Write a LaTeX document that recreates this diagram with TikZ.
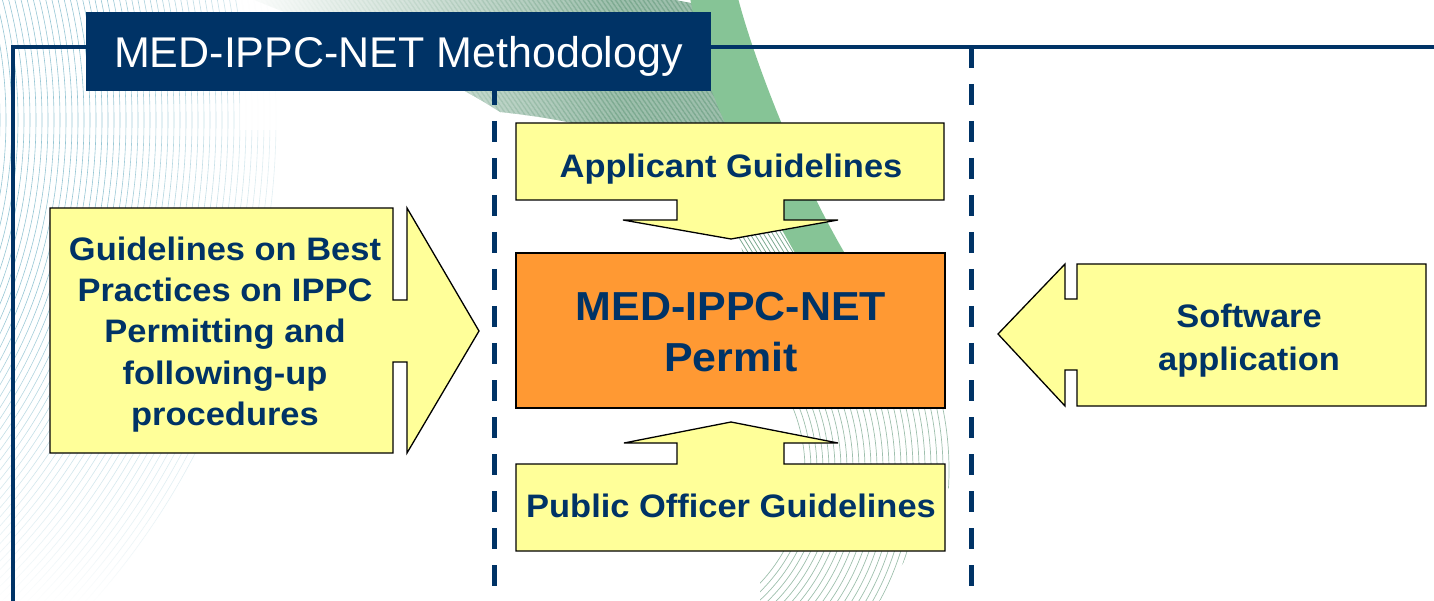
\documentclass[tikz,border=0pt]{standalone}
\usepackage{fontspec}
\setmainfont{Liberation Sans}
\newfontfamily\labelfont{Liberation Sans}[FakeStretch=1.06]
\usetikzlibrary{fadings}
\definecolor{navy}{RGB}{0,51,102}
\definecolor{paleyellow}{RGB}{255,255,153}
\definecolor{permitorange}{RGB}{255,153,51}
\definecolor{swooshgreen}{RGB}{134,196,150}
\definecolor{hatchgreen}{RGB}{125,170,145}
\definecolor{lineblue}{RGB}{150,198,212}
\tikzfading[name=fadetoright, left color=transparent!100, right color=transparent!0]
\tikzfading[name=fadetoleft, left color=transparent!0, right color=transparent!100]
\tikzfading[name=fadetobottom, top color=transparent!100, bottom color=transparent!0]
\begin{document}
\begin{tikzpicture}[x=1pt,y=-1pt,
  frameline/.style={navy, line width=4pt},
  divider/.style={navy, line width=5pt, dash pattern=on 21pt off 16pt},
  blockshape/.style={fill=paleyellow, draw=black, line width=1.3pt, line join=miter},
  permitbox/.style={fill=permitorange, draw=black, line width=1.3pt},
  hatchline/.style={hatchgreen, line width=0.8pt},
  yellowtext/.style={text=navy, align=center, inner sep=0pt,
    font=\labelfont\bfseries\fontsize{32.5}{41.2}\selectfont},
  titlebox/.style={fill=navy, text=white, inner sep=0pt, minimum width=625pt,
    text height=56pt, text depth=23pt, font=\fontsize{43}{50}\selectfont}]
\useasboundingbox (0,0) rectangle (1434,601);

% ---- background: light blue curves on the left
\begin{scope}
  \clip (0,0) rectangle (335,601);
  \foreach \r in {450,456,...,726}
    \draw[lineblue, line width=0.6pt] (-450,120) circle (\r);
\end{scope}
\fill[white, path fading=fadetoright] (100,-2) rectangle (337,603);
\fill[white, path fading=fadetobottom] (-2,300) rectangle (337,603);

% ---- background: diagonal hatch near the top, left of the swoosh
\begin{scope}
  \clip (250,-2) -- (700,-2) .. controls (712,110) and (760,190) .. (800,262)
        -- (745,262) .. controls (725,170) and (650,128) .. (500,112)
        .. controls (420,60) and (300,20) .. (250,-2) -- cycle;
  \foreach \i in {0,...,200}
    \draw[hatchline] ({-300+4.6*\i},-10) -- ++(900,170);
  \foreach \i in {0,...,40}
    \draw[hatchline] ({640+4.5*\i},150) -- ++(80,130);
\end{scope}
\fill[white, path fading=fadetoleft] (240,-3) rectangle (620,130);

% ---- background: green swoosh
\fill[swooshgreen] (690,-2) -- (738,-2) .. controls (754,60) and (800,180) .. (850,262)
  -- (850,300) -- (810,300) -- (800,262) .. controls (760,190) and (716,120) .. (703,60)
  -- (690,-2) -- cycle;

% ---- background: arcs below the permit box
\begin{scope}
  \clip (760,408) -- (960,408) -- (960,470) -- (880,601) -- (760,601) -- cycle;
  \foreach \r in {165,171,...,310}
    \draw[hatchgreen, opacity=0.75, line width=0.7pt] (640,470) circle (\r);
\end{scope}

% ---- frame and dividers
\draw[frameline] (13,610) -- (13,47) -- (1440,47);
\draw[divider] (494,47) -- (494,610);
\draw[divider] (971,47) -- (971,610);

% ---- title
\node[titlebox] (title) at (398.5,51.5) {MED-IPPC-NET Methodology};

% ---- left block arrow
\draw[blockshape] (50,208) -- (393,208) -- (393,300) -- (407,300) -- (407,208)
  -- (479,331) -- (407,453) -- (407,362) -- (393,362) -- (393,453) -- (50,453) -- cycle;
\node[yellowtext] (bestpractices) at (225,334.5)
  {Guidelines on Best\\Practices on IPPC\\Permitting and\\following-up\\procedures};

% ---- applicant guidelines (arrow down)
\draw[blockshape] (516,123) -- (944,123) -- (944,200) -- (784,200) -- (784,220)
  -- (838,220) -- (731,239) -- (623,220) -- (677,220) -- (677,200) -- (516,200) -- cycle;
\node[yellowtext, anchor=base] (applicant) at (731,178) {Applicant Guidelines};

% ---- permit box
\node[permitbox, minimum width=429pt, minimum height=155pt, inner sep=0pt] (permitbg) at (730.5,330.5) {};
\node[text=navy, align=center, inner sep=0pt,
  font=\labelfont\bfseries\fontsize{40.5}{51}\selectfont] (permit) at (731,332)
  {MED-IPPC-NET\\Permit};

% ---- public officer guidelines (arrow up)
\draw[blockshape] (516,464) -- (677,464) -- (677,443) -- (624,443) -- (731,422)
  -- (838,443) -- (784,443) -- (784,464) -- (945,464) -- (945,551) -- (516,551) -- cycle;
\node[yellowtext, anchor=base] (officer) at (731,517) {Public Officer Guidelines};

% ---- right block arrow
\draw[blockshape] (1426,264) -- (1077,264) -- (1077,299) -- (1065,299) -- (1065,264)
  -- (998,334) -- (1065,406) -- (1065,370) -- (1077,370) -- (1077,406) -- (1426,406) -- cycle;
\node[yellowtext, font=\labelfont\bfseries\fontsize{32.5}{43}\selectfont] (software) at (1249,340.5)
  {Software\\application};
\end{tikzpicture}
\end{document}
